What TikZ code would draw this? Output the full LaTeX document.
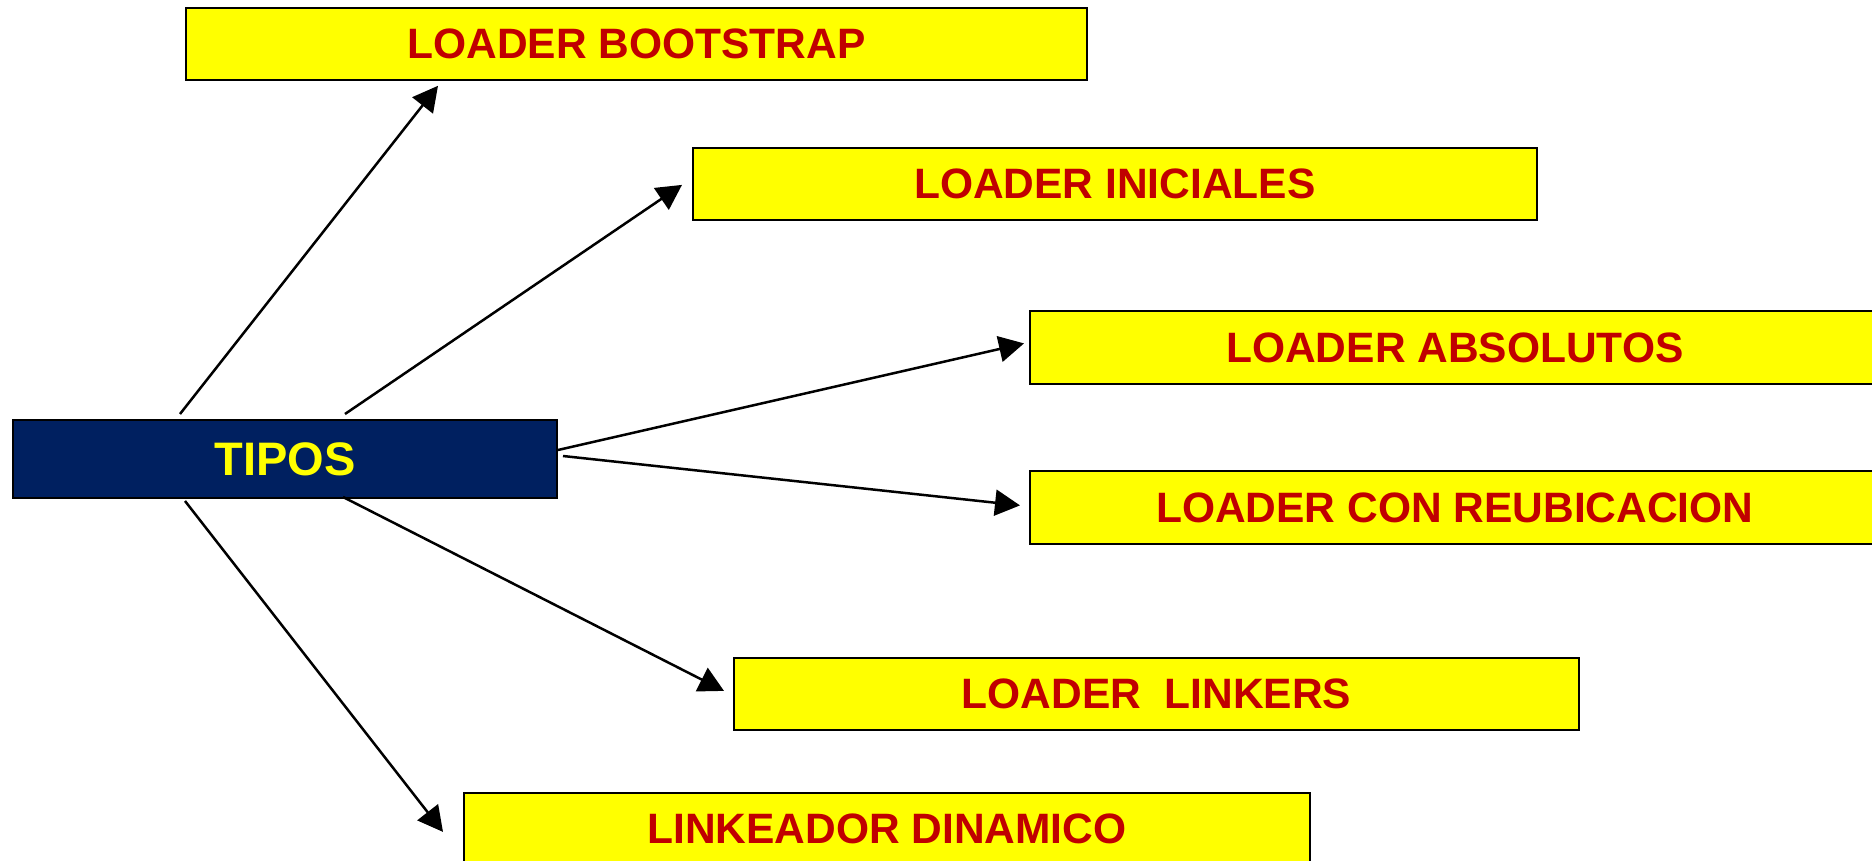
\documentclass[tikz,border=0pt]{standalone}
\usepackage{fontspec}
\setmainfont{Liberation Sans}
\usetikzlibrary{arrows.meta}
\definecolor{navy}{RGB}{0,32,96}
\definecolor{ylw}{RGB}{255,255,0}
\definecolor{redtxt}{RGB}{192,0,0}
\begin{document}
\begin{tikzpicture}[x=1pt,y=-1pt,
  lbox/.style={draw=black,line width=1.8pt,fill=ylw,text=redtxt,
    font=\fontsize{42.5}{50}\selectfont\bfseries,inner sep=0pt,anchor=north west},
  tbox/.style={draw=black,line width=2pt,fill=navy,text=ylw,
    font=\fontsize{47}{56}\selectfont\bfseries,inner sep=0pt,anchor=north west},
  arr/.style={line width=2.5pt,-{Triangle[length=25pt,width=26pt]}}]
\useasboundingbox (0,0) rectangle (1872,861);
\node[tbox,minimum width=544pt,minimum height=78pt] (tipos) at (12,419) {TIPOS};
\node[lbox,minimum width=901pt,minimum height=72pt] (boot) at (185,7) {LOADER BOOTSTRAP};
\node[lbox,minimum width=844pt,minimum height=72pt] (ini) at (692,147) {LOADER INICIALES};
\node[lbox,minimum width=850pt,minimum height=73pt] (abs) at (1029,310) {LOADER ABSOLUTOS};
\node[lbox,minimum width=850pt,minimum height=73pt] (reub) at (1029,470) {LOADER CON REUBICACION};
\node[lbox,minimum width=845pt,minimum height=72pt] (link) at (733,657) {LOADER\ \ LINKERS};
\node[lbox,minimum width=846pt,minimum height=72pt] (din) at (463,792) {LINKEADOR DINAMICO};
\draw[arr] ([xshift=168pt,yshift=5pt]tipos.north west) -- ([xshift=253pt,yshift=-5pt]boot.south west);
\draw[arr] ([xshift=333pt,yshift=5pt]tipos.north west) -- ([xshift=-10pt,yshift=-1pt]ini.west);
\draw[arr] ([yshift=9pt]tipos.east) -- ([xshift=-5pt,yshift=4pt]abs.west);
\draw[arr] ([xshift=5pt,yshift=3pt]tipos.east) -- ([xshift=-9pt,yshift=2pt]reub.west);
\draw[arr] ([xshift=331pt,yshift=2pt]tipos.south west) -- ([xshift=-9pt,yshift=3pt]link.west);
\draw[arr] ([xshift=173pt,yshift=-2pt]tipos.south west) -- ([xshift=-20pt,yshift=-3pt]din.west);
\end{tikzpicture}
\end{document}
